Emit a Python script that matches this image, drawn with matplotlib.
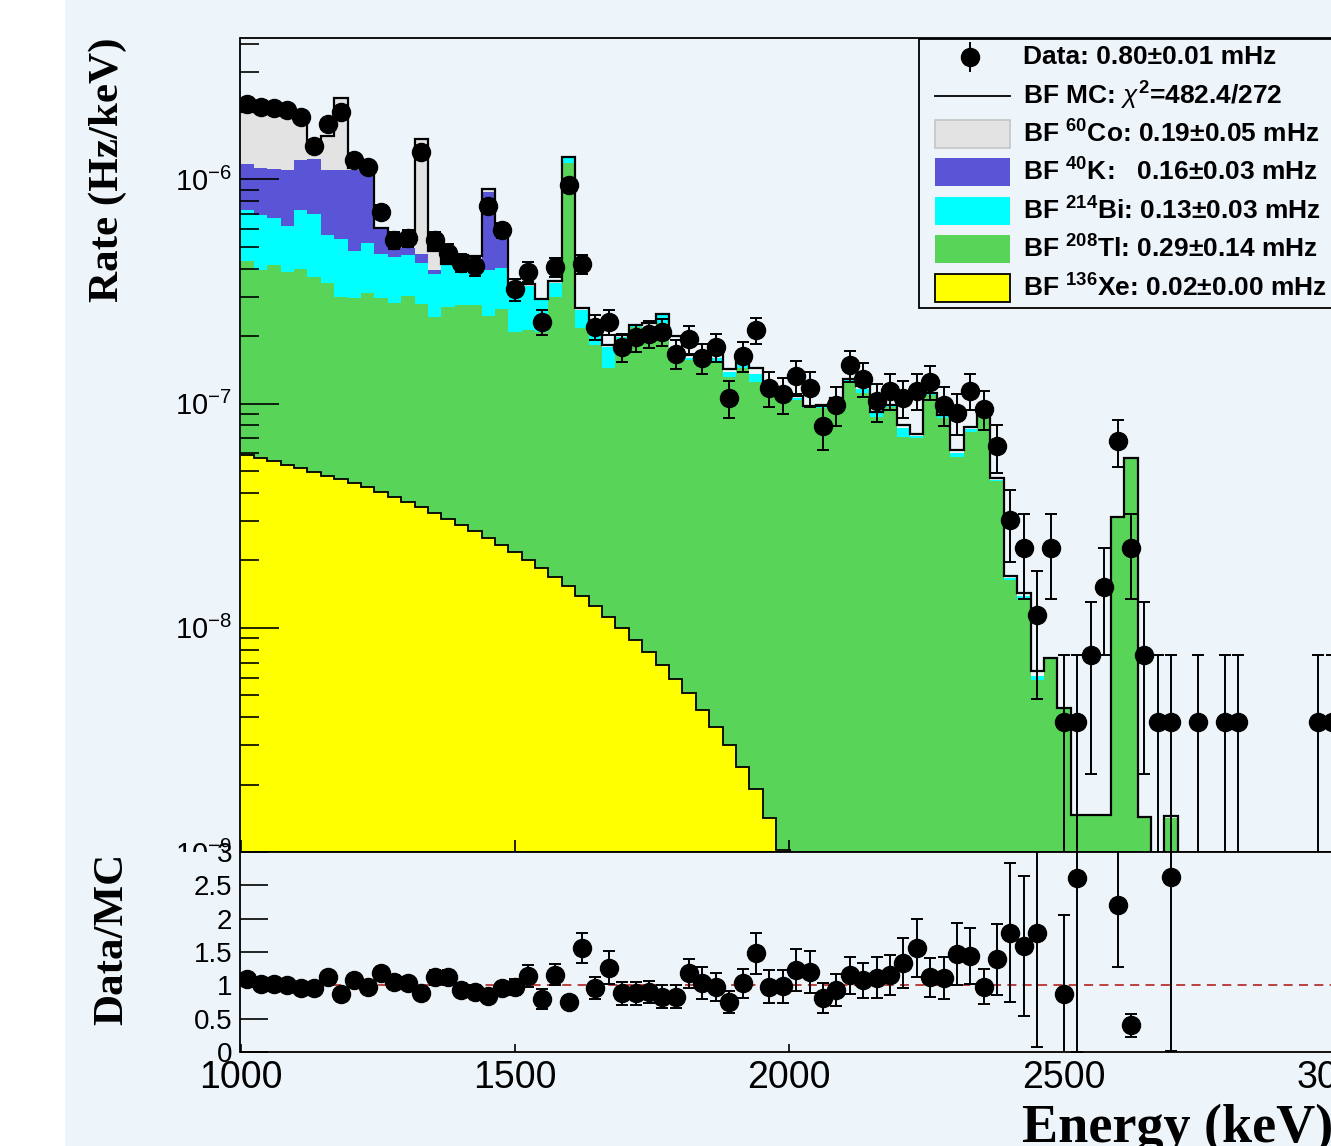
import numpy as np
import matplotlib
matplotlib.use('Agg')
import matplotlib.pyplot as plt
from matplotlib.patches import Rectangle
from matplotlib.ticker import LogLocator, FixedLocator, NullFormatter, LogFormatterMathtext

plt.rcParams['font.family'] = ['Liberation Sans', 'DejaVu Sans']
plt.rcParams['mathtext.fontset'] = 'custom'
plt.rcParams['mathtext.rm'] = 'Liberation Sans'
plt.rcParams['mathtext.bf'] = 'Liberation Sans:bold'
plt.rcParams['mathtext.it'] = 'Liberation Sans:italic'

W, H = 1331, 1146

# energy binning (keV)
e_min = 1000.0
bin_width = 24.4
n_bins = 82
edges = e_min + bin_width * np.arange(n_bins + 1)
centers = 0.5 * (edges[:-1] + edges[1:])

rate_per_count = 3.80e-9  # Hz/keV for a single event in one bin

data_counts = [571, 554, 548, 537, 499, 371, 465, 526, 321, 298,
               188, 141, 144, 349, 141, 124, 112, 108, 200, 156,
               85, 102, 61, 107, 248, 110, 58, 61, 47, 52,
               54, 55, 44, 51, 42, 47, 28, 43, 56, 31,
               29, 35, 31, 21, 26, 39, 34, 27, 30, 28,
               30, 33, 26, 24, 30, 25, 17, 8, 6, 3,
               6, 1, 1, 2, 4, 18, 6, 2, 1, 1,
               0, 1, 0, 1, 1, 0, 0, 0, 0, 0,
               1, 1]

# best-fit MC, units of 1e-9 Hz/keV
mc_total = [1990, 2060, 2050, 2030, 1990, 1469, 1564, 2297, 1129, 1155,
            605, 510, 531, 1507, 478, 421, 458, 456, 905, 617,
            330, 340, 293, 351, 1257, 268, 230, 183, 203, 225,
            228, 252, 201, 164, 155, 182, 142, 159, 144, 120,
            112, 108, 98, 98.5, 106, 129, 120, 92, 99, 80,
            73, 112, 89, 62, 79, 97, 46.5, 17.0, 14.3, 6.4,
            7.33, 4.37, 1.46, 1.46, 1.46, 31.1, 57, 1.43, 0, 1.45]

# stack heights (cumulative, from the bottom: Xe, Tl, Bi, K, Co), 1e-9 Hz/keV
top_xe = [59.0, 57.2, 55.5, 53.2, 51.6, 49.5, 47.5, 46.1, 44.2, 42.5,
          40.3, 38.3, 36.4, 34.6, 32.5, 30.6, 28.7, 27.0, 25.1, 23.4,
          21.8, 20.1, 18.5, 16.9, 15.4, 13.9, 12.5, 11.2, 10.0, 8.8,
          7.8, 6.8, 5.9, 5.1, 4.3, 3.6, 3.0, 2.4, 1.9, 1.42, 1.02]

top_tl = [432, 394, 415, 386, 398, 367, 345, 299, 296, 311,
          296, 281, 302, 278, 243, 270, 275, 275, 246, 264,
          209, 213, 209, 299, 1183, 217, 183, 144, 194, 220,
          196, 229, 165, 156, 149, 153, 131, 144, 125, 118,
          106, 104, 95.6, 96, 104, 125, 111.5, 87, 96.6, 71,
          70, 109, 86, 58, 74.7, 87, 45, 16.3, 13.3, 5.85,
          7.33, 4.37, 1.46, 1.46, 1.46, 31.1, 57, 1.43, 0, 1.42]

top_bi = [730, 694, 673, 620, 730, 701, 565, 542, 479, 520,
          465, 451, 460, 424, 380, 415, 415, 402, 394, 402,
          320, 335, 290, 345, 1240, 262, 226, 179, 198, 222,
          205, 248, 175, 160, 152, 160, 138, 150, 135, 119,
          109, 106, 97.5, 97, 105, 127, 116, 91, 98, 78,
          72, 111, 88, 60, 77, 90, 45.5, 16.6, 13.8, 6.1]

top_k = [1171, 1124, 1113, 1101, 1220, 1233, 1101, 1101, 1101, 1057,
         600, 494, 494, 465, 395, 415, 437, 437, 881, 605,
         320, 335, 290, 345, 1240, 262, 226]

top_co = [1990, 2060, 2050, 2030, 1990, 1469, 1564, 2297, 1129, 1155,
          605, 510, 531, 1507, 478, 421, 458, 456, 905, 617,
          330, 340, 293, 351]

ratio_err = [0.06, 0.06, 0.06, 0.06, 0.06, 0.07, 0.06, 0.06, 0.07, 0.07,
             0.09, 0.10, 0.10, 0.07, 0.11, 0.11, 0.10, 0.10, 0.08, 0.09,
             0.12, 0.16, 0.15, 0.16, 0.08, 0.23, 0.17, 0.245, 0.17, 0.17,
             0.17, 0.17, 0.17, 0.22, 0.24, 0.21, 0.17, 0.22, 0.31, 0.245,
             0.25, 0.31, 0.31, 0.22, 0.245, 0.275, 0.26, 0.31, 0.30, 0.375,
             0.435, 0.29, 0.31, 0.47, 0.42, 0.26, 0.53, 1.04, 1.05, 1.71,
             1.5, 1.18, 2.6, 0, 0, 0.92, 0.175, 0, 0, 2.6]

legend_labels = ['Data: 0.80\u00b10.01 mHz',
                 'BF MC: $\\chi^{\\mathbf{2}}$=482.4/272',
                 'BF $^{\\mathbf{60}}$Co: 0.19\u00b10.05 mHz',
                 'BF $^{\\mathbf{40}}$K:   0.16\u00b10.03 mHz',
                 'BF $^{\\mathbf{214}}$Bi: 0.13\u00b10.03 mHz',
                 'BF $^{\\mathbf{208}}$Tl: 0.29\u00b10.14 mHz',
                 'BF $^{\\mathbf{136}}$Xe: 0.02\u00b10.00 mHz']

bg = '#EEF5FA'
c_co, c_k, c_bi, c_tl, c_xe = '#E3E3E3', '#5A55D6', '#00FFFF', '#58D458', '#FFFF00'


def padded(a):
  a = np.asarray(a, dtype=float)
  return np.concatenate([a, np.zeros(n_bins - len(a))])


xe = padded(top_xe)
tl = np.maximum(padded(top_tl), xe)
bi = np.maximum(padded(top_bi), tl)
kk = np.maximum(padded(top_k), bi)
co = np.maximum(padded(top_co), kk)
mc = padded(mc_total)
counts = np.asarray(data_counts, dtype=float)
rerr = padded(ratio_err)

fig = plt.figure(figsize=(W / 100, H / 100), dpi=100)
fig.patch.set_facecolor('white')
fig.add_artist(Rectangle((65 / W, 0), 1, 1, transform=fig.transFigure,
                         facecolor=bg, edgecolor='none', zorder=-10))

x0 = 240.5
px_per_kev = 0.5488
ax_w = 2500 * px_per_kev
ax = fig.add_axes([x0 / W, (H - 852) / H, ax_w / W, 814 / H])
ax2 = fig.add_axes([x0 / W, (H - 1052) / H, ax_w / W, 200 / H])
ax2.set_zorder(ax.get_zorder() + 1)  # ratio pad sits on top, like the ROOT pads
# the lower pad background also hides the part of the main labels that spills below
fig.add_artist(Rectangle((65 / W, 0), 1, (H - 852) / H, transform=fig.transFigure,
                         facecolor=bg, edgecolor='none', zorder=0.5))

# ---- main panel
ax.set_facecolor(bg)
ax.set_yscale('log')
floor = 1e-3
for top, col in [(co, c_co), (kk, c_k), (bi, c_bi), (tl, c_tl), (xe, c_xe)]:
  ax.stairs(np.maximum(top, floor) * 1e-9, edges, baseline=1e-12, fill=True,
            color=col, lw=0, zorder=1)
ax.stairs(np.maximum(xe, floor) * 1e-9, edges, baseline=None, color='black', lw=1.3, zorder=2)
ax.stairs(np.maximum(mc, floor) * 1e-9, edges, baseline=None, color='black', lw=1.6, zorder=3)

m = counts > 0
rate = counts * rate_per_count
err = np.sqrt(counts) * rate_per_count
lo = np.minimum(err, rate * 0.999999)
ax.errorbar(centers[m], rate[m], yerr=[lo[m], err[m]], fmt='o', color='black',
            ms=13, elinewidth=1.4, capsize=4.3, capthick=1.4, zorder=4)

ax.set_xlim(1000, 3500)
ax.set_ylim(1e-9, 4.27e-6)
ax.yaxis.set_major_locator(LogLocator(base=10, numticks=10))
ax.yaxis.set_minor_locator(LogLocator(base=10, subs=np.arange(2, 10), numticks=20))
ax.yaxis.set_major_formatter(LogFormatterMathtext())
ax.yaxis.set_minor_formatter(NullFormatter())
ax.xaxis.set_major_locator(FixedLocator(np.arange(1000, 3501, 500)))
ax.tick_params(axis='y', which='major', direction='in', length=28, width=1.2, labelsize=21, pad=6)
ax.tick_params(axis='y', which='minor', direction='in', length=14, width=1.2)
ax.tick_params(axis='x', which='major', direction='in', length=9, width=1.2, labelbottom=False)
for s in ax.spines.values():
  s.set_linewidth(1.3)

# ---- ratio panel
ax2.set_facecolor(bg)
ax2.set_xlim(1000, 3500)
ax2.set_ylim(0, 3)
ax2.axhline(1, color='#B83232', ls=(0, (5, 3.5)), lw=1.3, zorder=1)
with np.errstate(divide='ignore', invalid='ignore'):
  ratio = np.where(mc > 0, rate / (mc * 1e-9), np.nan)
r_ok = m & (mc > 0) & (ratio <= 3)
ax2.errorbar(centers[r_ok], ratio[r_ok], yerr=rerr[r_ok], fmt='o', color='black',
             ms=13, elinewidth=1.4, capsize=4.3, capthick=1.4, zorder=3)
ax2.yaxis.set_major_locator(FixedLocator(np.arange(0, 3.01, 0.5)))
ax2.set_yticklabels(['0', '0.5', '1', '1.5', '2', '2.5', '3'])
ax2.xaxis.set_major_locator(FixedLocator(np.arange(1000, 3501, 500)))
ax2.tick_params(axis='y', direction='in', length=20, width=1.2, labelsize=20, pad=6)
ax2.tick_params(axis='x', direction='in', length=6, width=1.2, labelsize=27, pad=6)
for s in ax2.spines.values():
  s.set_linewidth(1.3)

# ---- axis titles
fig.text(108 / W, 1 - 170 / H, 'Rate (Hz/keV)', rotation=90, ha='center', va='center',
         fontsize=31, fontweight='bold', family='Liberation Serif')
fig.text(112 / W, 1 - 939 / H, 'Data/MC', rotation=90, ha='center', va='center',
         fontsize=31, fontweight='bold', family='Liberation Serif')
fig.text(1022 / W, 1 - 1142 / H, 'Energy (keV)', ha='left', va='baseline',
         fontsize=39, fontweight='bold', family='Liberation Serif')

# ---- legend, drawn in pixel coordinates
lax = fig.add_axes([0, 0, 1, 1])
lax.set_zorder(10)
lax.set_xlim(0, W)
lax.set_ylim(H, 0)
lax.axis('off')
lax.add_patch(Rectangle((919, 39), 600, 269, facecolor=bg, edgecolor='black', lw=1.3))
rows = [57, 96, 134, 172, 211, 249, 288]
lax.plot([970, 970], [43, 71], color='black', lw=1.4)
lax.plot([970], [57], 'o', color='black', ms=13)
lax.plot([935, 1010], [96, 96], color='black', lw=1.3)
for y, col, ec in zip(rows[2:], [c_co, c_k, c_bi, c_tl, c_xe],
                      ['#C8C8C8', 'none', 'none', 'none', 'black']):
  lax.add_patch(Rectangle((935, y - 14), 75, 28, facecolor=col, edgecolor=ec, lw=1.3))
for y, lab in zip(rows, legend_labels):
  lax.text(1023, y, lab, ha='left', va='center', fontsize=19, fontweight='bold')

fig.savefig('out.png', dpi=100, facecolor=fig.get_facecolor())
